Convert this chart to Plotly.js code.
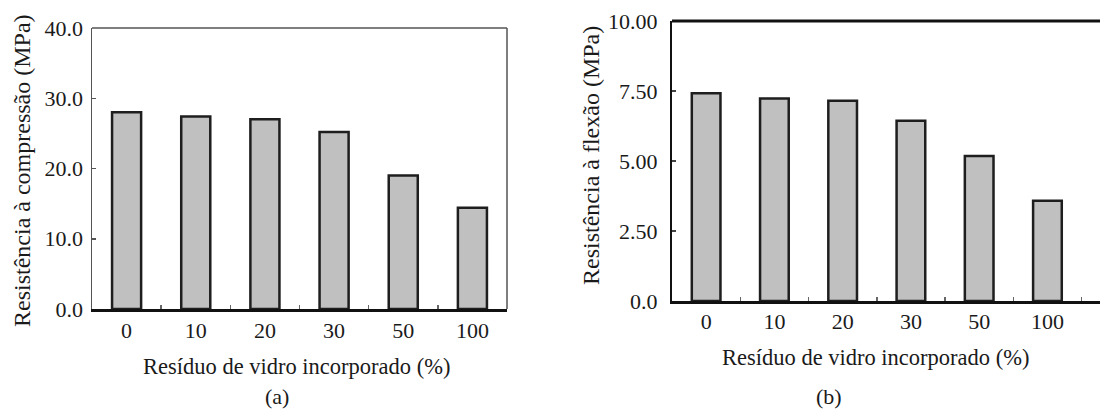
<!DOCTYPE html>
<html>
<head>
<meta charset="utf-8">
<script src="https://cdn.plot.ly/plotly-3.0.1.min.js"></script>
<style>html,body{margin:0;padding:0;background:#fff;}#chart{width:1100px;height:410px;}</style>
</head>
<body>
<div id="chart"></div>
<script>
// Data
const categories = ['0', '10', '20', '30', '50', '100'];
const compressao = [28.0, 27.4, 27.0, 25.2, 19.0, 14.4];
const flexao = [7.42, 7.23, 7.15, 6.44, 5.18, 3.58];
const yTicksA = [0, 10, 20, 30, 40];
const yTickTextA = ['0.0', '10.0', '20.0', '30.0', '40.0'];
const yTicksB = [0, 2.5, 5, 7.5, 10];
const yTickTextB = ['0.0', '2.50', '5.00', '7.50', '10.00'];
const xTitle = 'Resíduo de vidro incorporado (%)';
const yTitleA = 'Resistência à compressão (MPa)';
const yTitleB = 'Resistência à flexão (MPa)';

const W = 1100, H = 410;
const px = v => v / W;
const py = v => 1 - v / H;
const FONT = '"Liberation Serif", "Times New Roman", Tinos, "DejaVu Serif", serif';
const TXT = '#1a1a1a';

const barStyle = {color: '#c0c0c0', line: {color: '#1e1e1e', width: 2.5}};

const traces = [
  {type: 'bar', x: categories, y: compressao, xaxis: 'x', yaxis: 'y', marker: barStyle, hoverinfo: 'x+y', showlegend: false},
  {type: 'bar', x: categories, y: flexao, xaxis: 'x2', yaxis: 'y2', marker: barStyle, hoverinfo: 'x+y', showlegend: false}
];

const tickFont = {family: FONT, size: 22, color: TXT};

const layout = {
  width: W, height: H,
  margin: {l: 0, r: 0, t: 0, b: 0, pad: 0},
  paper_bgcolor: '#fff', plot_bgcolor: '#fff',
  bargap: 0.58,
  font: {family: FONT, color: TXT},
  xaxis: {
    domain: [px(92), px(507)], anchor: 'y', type: 'category', range: [-0.5, 5.5],
    showline: true, linecolor: '#111', linewidth: 2.5,
    ticks: 'inside', tickson: 'boundaries', ticklen: 4, tickwidth: 1.5, tickcolor: '#666',
    tickfont: tickFont, ticklabelstandoff: 0, showgrid: false, zeroline: false, fixedrange: true
  },
  yaxis: {
    domain: [py(309), py(28)], anchor: 'x', range: [0, 40],
    tickvals: yTicksA, ticktext: yTickTextA,
    showline: true, linecolor: '#555', linewidth: 1.5,
    ticks: 'inside', ticklen: 4, tickwidth: 1.5, tickcolor: '#555',
    tickfont: tickFont, ticklabelstandoff: 3, showgrid: false, zeroline: false, fixedrange: true
  },
  xaxis2: {
    domain: [px(672), 1], anchor: 'y2', type: 'category', range: [-0.5, 5.77],
    showline: true, linecolor: '#111', linewidth: 2.5,
    ticks: 'inside', tickson: 'boundaries', ticklen: 4, tickwidth: 1.5, tickcolor: '#666',
    tickfont: tickFont, ticklabelstandoff: -1, showgrid: false, zeroline: false, fixedrange: true
  },
  yaxis2: {
    domain: [py(301), py(21)], anchor: 'x2', range: [0, 10],
    tickvals: yTicksB, ticktext: yTickTextB,
    showline: true, linecolor: '#111', linewidth: 2,
    ticks: 'inside', ticklen: 4, tickwidth: 1.5, tickcolor: '#444',
    tickfont: tickFont, ticklabelstandoff: 8, showgrid: false, zeroline: false, fixedrange: true
  },
  shapes: [
    {type: 'line', xref: 'x domain', yref: 'y domain', x0: 0, x1: 1, y0: 1, y1: 1, line: {color: '#555', width: 1.5}},
    {type: 'line', xref: 'x domain', yref: 'y domain', x0: 1, x1: 1, y0: 0, y1: 1, line: {color: '#555', width: 1.5}},
    {type: 'line', xref: 'x2 domain', yref: 'y2 domain', x0: 0, x1: 1, y0: 1, y1: 1, line: {color: '#111', width: 3}}
  ],
  annotations: [
    {text: yTitleA, xref: 'paper', yref: 'paper', x: px(22), y: py(171), textangle: -90, showarrow: false,
     xanchor: 'center', yanchor: 'middle', font: {family: FONT, size: 24, color: TXT}},
    {text: yTitleB, xref: 'paper', yref: 'paper', x: px(591), y: py(156), textangle: -90, showarrow: false,
     xanchor: 'center', yanchor: 'middle', font: {family: FONT, size: 24, color: TXT}},
    {text: xTitle, xref: 'paper', yref: 'paper', x: px(296), y: py(366), showarrow: false,
     xanchor: 'center', yanchor: 'middle', font: {family: FONT, size: 22.5, color: TXT}},
    {text: xTitle, xref: 'paper', yref: 'paper', x: px(875), y: py(357), showarrow: false,
     xanchor: 'center', yanchor: 'middle', font: {family: FONT, size: 22.5, color: TXT}},
    {text: '(a)', xref: 'paper', yref: 'paper', x: px(277), y: py(396), showarrow: false,
     xanchor: 'center', yanchor: 'middle', font: {family: FONT, size: 22, color: TXT}},
    {text: '(b)', xref: 'paper', yref: 'paper', x: px(829), y: py(396), showarrow: false,
     xanchor: 'center', yanchor: 'middle', font: {family: FONT, size: 22, color: TXT}}
  ]
};

Plotly.newPlot('chart', traces, layout, {displayModeBar: false, staticPlot: true});
</script>
</body>
</html>
